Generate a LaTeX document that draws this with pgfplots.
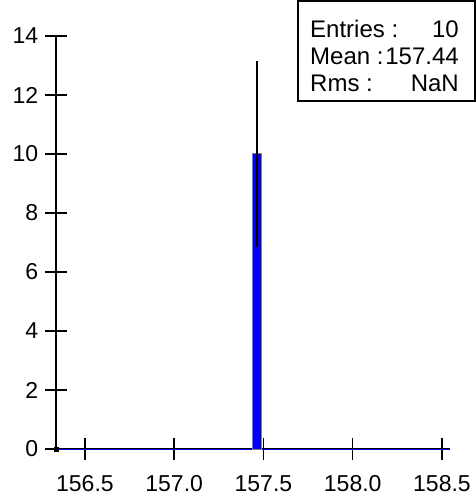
\documentclass[border=0pt]{standalone}
\usepackage{fontspec}
\setmainfont{Liberation Sans}
\usepackage{pgfplots}
\pgfplotsset{compat=1.18}
\begin{document}
\fontsize{23}{26}\selectfont
\begin{tikzpicture}[x=1pt,y=1pt]
\useasboundingbox (0,0) rectangle (476,498);
\begin{axis}[
  at={(56pt,49pt)}, anchor=south west,
  scale only axis, width=394pt, height=413pt,
  xmin=156.338, xmax=158.545, ymin=0, ymax=14,
  axis x line*=bottom, axis y line*=left,
  axis line style={-, line width=1.3pt, black},
  tick align=center, major tick length=22pt,
  tick style={line width=1.4pt, black},
  xtick={156.5,157,157.5,158,158.5},
  ytick={0,2,4,6,8,10,12,14},
  xticklabel style={/pgf/number format/fixed, /pgf/number format/fixed zerofill, /pgf/number format/precision=1, /pgf/number format/1000 sep={}, yshift=-8pt},
  yticklabel style={xshift=1pt},
  /pgf/number format/assume math mode=true,
  ticklabel style={font=\fontsize{23}{26}\selectfont},
  clip=false,
]
\addplot[draw=blue, line width=0.8pt, forget plot] coordinates {(156.338,0) (158.545,0)};
\addplot[fill=blue, draw=gray, line width=1pt, ybar interval] coordinates {(157.44,10) (157.49,10)};
\addplot[draw=none, mark=none,
  error bars/.cd, y dir=both, y explicit, error mark=none,
  error bar style={line width=1.8pt, black}]
  coordinates {(157.465,10) +- (0,3.162)};
\addplot[only marks, mark=square*, mark size=2pt, black] coordinates {(156.338,0)};
\end{axis}
\draw[line width=1.3pt] (298,397) rectangle (475,497);
\begin{scope}[font=\fontsize{24}{28}\selectfont]
\node[anchor=base west, inner sep=0] at (310,460) {Entries :};
\node[anchor=base east, inner sep=0] at (459,460) {10};
\node[anchor=base west, inner sep=0] at (310,433) {Mean :};
\node[anchor=base east, inner sep=0] at (459,433) {157.44};
\node[anchor=base west, inner sep=0] at (310,406) {Rms :};
\node[anchor=base east, inner sep=0] at (459,406) {NaN};
\end{scope}
\end{tikzpicture}
\end{document}
